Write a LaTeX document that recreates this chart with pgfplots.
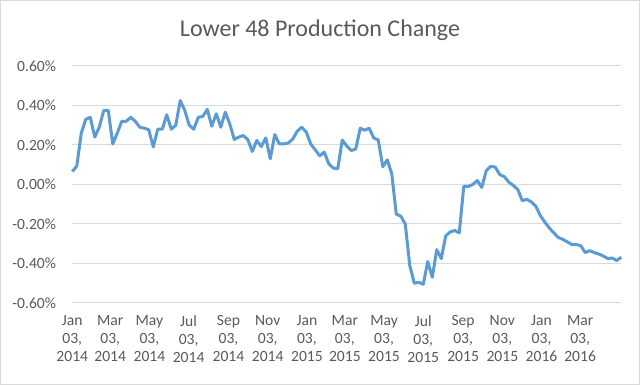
\documentclass[border=0pt]{standalone}
\usepackage{fontspec}
\setmainfont{Carlito}
\usepackage{pgfplots}
\usepackage{pgfplotstable}
\pgfplotsset{compat=1.18}
\definecolor{linec}{RGB}{91,155,213}
\definecolor{gridc}{RGB}{217,217,217}
\definecolor{textc}{RGB}{89,89,89}
\pgfplotstableread{
day val
0 0.066
7 0.093
14 0.26
21 0.33
28 0.34
35 0.24
42 0.29
49 0.375
56 0.375
63 0.205
70 0.26
77 0.32
84 0.32
91 0.34
98 0.32
105 0.29
112 0.285
119 0.277
126 0.19
133 0.28
140 0.28
147 0.353
154 0.28
161 0.30
168 0.425
175 0.375
182 0.30
189 0.28
196 0.34
203 0.345
210 0.38
217 0.295
224 0.358
231 0.29
238 0.366
245 0.307
252 0.228
259 0.24
266 0.248
273 0.228
280 0.167
287 0.223
294 0.192
301 0.236
308 0.13
315 0.253
322 0.206
329 0.206
336 0.21
343 0.23
350 0.27
357 0.29
364 0.265
371 0.205
378 0.175
385 0.145
392 0.164
399 0.105
406 0.083
413 0.08
420 0.225
427 0.195
434 0.172
441 0.18
448 0.285
455 0.275
462 0.285
469 0.235
476 0.226
483 0.09
490 0.125
497 0.054
504 -0.15
511 -0.16
518 -0.20
525 -0.41
532 -0.50
539 -0.495
546 -0.505
553 -0.39
560 -0.47
567 -0.33
574 -0.375
581 -0.26
588 -0.24
595 -0.233
602 -0.245
609 -0.01
616 -0.01
623 0.0
630 0.02
637 -0.015
644 0.07
651 0.092
658 0.088
665 0.05
672 0.04
679 0.012
686 -0.005
693 -0.025
700 -0.082
707 -0.075
714 -0.088
721 -0.11
728 -0.157
735 -0.19
742 -0.22
749 -0.245
756 -0.268
763 -0.278
770 -0.29
777 -0.304
784 -0.304
791 -0.31
798 -0.345
805 -0.335
812 -0.345
819 -0.352
826 -0.362
833 -0.375
840 -0.372
847 -0.385
854 -0.368
}\datatable
\begin{document}
\begin{tikzpicture}
\useasboundingbox (0,0) rectangle (480pt,288.75pt);
\draw[gridc, line width=0.75pt] (0.375pt,0.375pt) rectangle (479.625pt,288.375pt);
\node[text=textc, font=\fontsize{18}{22}\selectfont] at (240pt,266pt) {Lower 48 Production Change};
\begin{axis}[
  at={(54.2pt,61.5pt)}, anchor=south west,
  scale only axis, width=411.75pt, height=177.75pt,
  xmin=0, xmax=854, ymin=-0.6, ymax=0.6,
  ytick={-0.6,-0.4,-0.2,0,0.2,0.4,0.6},
  xtick={0,59,120,181,243,304,365,424,485,546,608,669,730,790},
  xticklabels={{Jan\\03,\\2014},{Mar\\03,\\2014},{May\\03,\\2014},{Jul\\03,\\2014},{Sep\\03,\\2014},{Nov\\03,\\2014},{Jan\\03,\\2015},{Mar\\03,\\2015},{May\\03,\\2015},{Jul\\03,\\2015},{Sep\\03,\\2015},{Nov\\03,\\2015},{Jan\\03,\\2016},{Mar\\03,\\2016}},
  axis line style={draw=none},
  tick style={draw=none},
  ymajorgrids,
  grid style={gridc, line width=0.75pt},
  /pgf/number format/assume math mode=true,
  yticklabel={\pgfmathprintnumber[fixed,fixed zerofill,precision=2]{\tick}\%},
  yticklabel style={text=textc, font=\fontsize{11.7}{14}\selectfont, inner sep=0pt, anchor=east, xshift=-12pt},
  xticklabel style={text=textc, align=center, font=\fontsize{11.7}{13.6}\selectfont, inner sep=0pt, anchor=north, yshift=-9pt},
  clip=false,
]
\addplot[linec, line width=2.25pt, line join=round] table[x=day, y=val] {\datatable};
\end{axis}
\end{tikzpicture}
\end{document}
